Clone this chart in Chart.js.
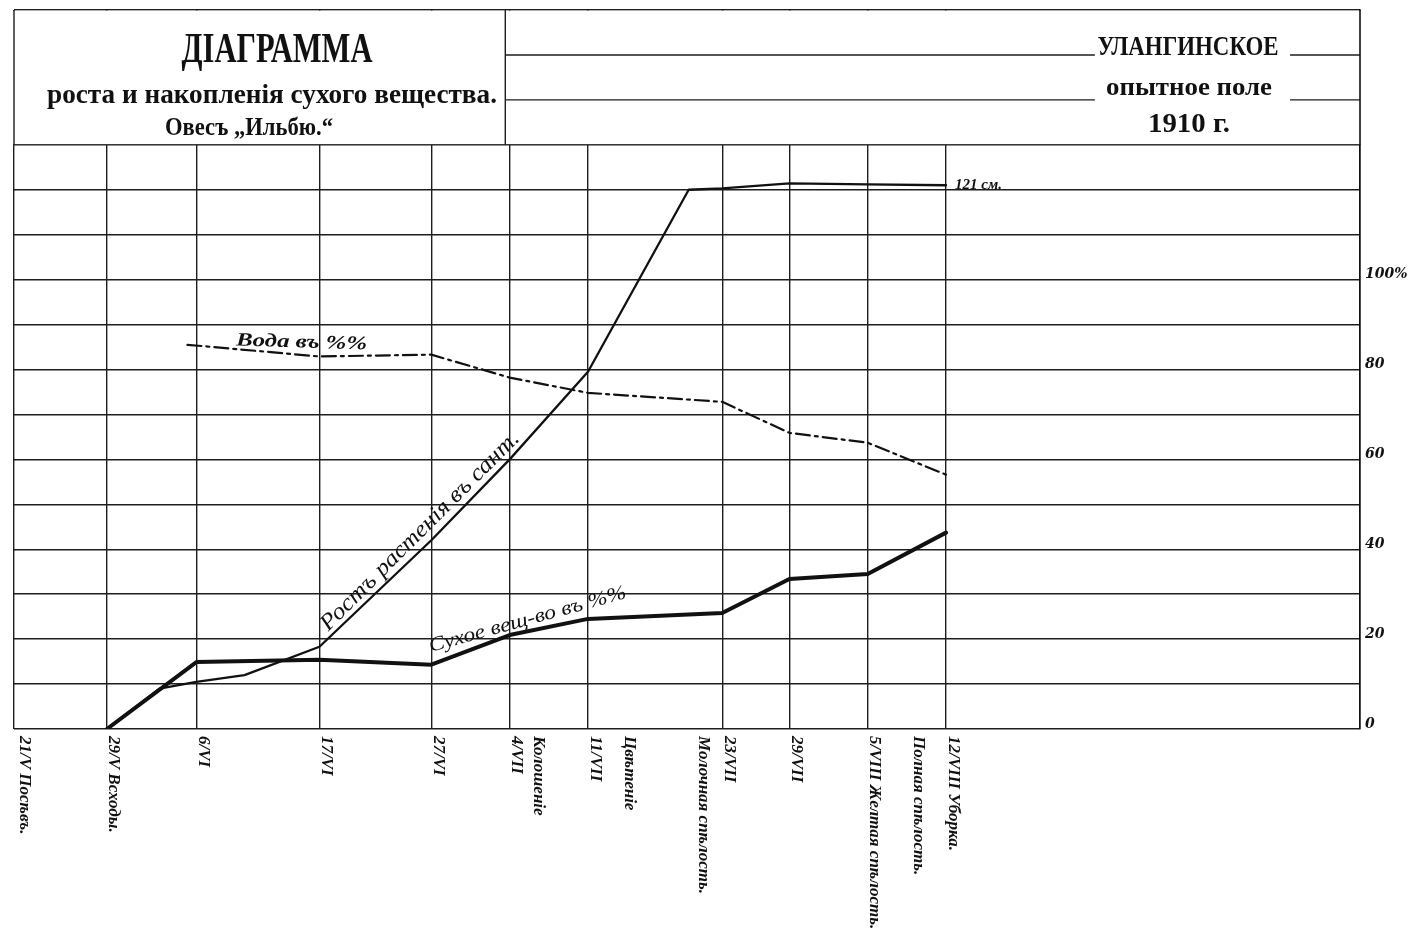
<!DOCTYPE html>
<html lang="ru">
<head>
<meta charset="utf-8">
<title>Діаграмма роста и накопленія сухого вещества</title>
<script src="https://cdn.jsdelivr.net/npm/chart.js@4.4.1/dist/chart.umd.min.js"></script>
<style>
  html, body { margin: 0; padding: 0; background: #fff; }
  canvas { display: block; }
</style>
</head>
<body>
<canvas id="diagram" width="1421" height="945"></canvas>
<script>
// x = days counted from 21/V (sowing day)
const dateDays = [0, 8, 16, 27, 37, 44, 51, 63, 69, 76, 83];
const dateLabels = ['21/V Посѣвъ.', '29/V Всходы.', '6/VI', '17/VI', '27/VI', '4/VII', '11/VII',
  '23/VII', '29/VII', '5/VIII Желтая спѣлость.', '12/VIII Уборка.'];
const phaseDays = [46.6, 54.7, 61.3, 80.5];
const phaseLabels = ['Колошеніе', 'Цвѣтеніе', 'Молочная спѣлость.', 'Полная спѣлость.'];

// height of plants, cm
const heightDays = [8, 12.7, 16, 20.3, 27, 37, 44, 51, 60, 63, 69, 76, 83];
const heightValues = [0, 9, 10.5, 12, 18.3, 42, 60, 79.5, 120, 120.3, 121.4, 121.2, 121];
// dry matter, %
const dryDays = [8, 16, 27, 37, 44, 51, 63, 69, 76, 83];
const dryValues = [0, 14.9, 15.4, 14.3, 20.9, 24.5, 25.8, 33.4, 34.5, 43.7];
// water, %
const waterDays = [15.2, 27, 37, 44, 51, 63, 69, 76, 83];
const waterValues = [85.5, 82.9, 83.3, 78.2, 74.8, 72.8, 65.9, 63.7, 56.6];

const percentTicks = [0, 20, 40, 60, 80, 100];

const ink = '#111';
const gridInk = '#1e1e1e';

function pts(days, vals) {
  return days.map((d, i) => ({ x: d, y: vals[i] }));
}

// draw text squeezed/stretched to a given width
function fitText(ctx, text, cx, cy, font, width, angle) {
  ctx.save();
  ctx.font = font;
  const w = ctx.measureText(text).width;
  ctx.translate(cx, cy);
  ctx.rotate(angle || 0);
  ctx.scale(width / w, 1);
  ctx.fillText(text, 0, 0);
  ctx.restore();
}

function drawDown(ctx, text, px, py) {
  ctx.save();
  ctx.translate(px, py);
  ctx.rotate(Math.PI / 2);
  ctx.fillText(text, 0, 0);
  ctx.restore();
}

function noPad(s) {
  s.paddingTop = 0;
  s.paddingBottom = 0;
  s.paddingLeft = 0;
  s.paddingRight = 0;
}

const sheet = {
  id: 'sheet',
  afterDraw(chart) {
    const { ctx, chartArea: a, scales: { x, y } } = chart;
    const w = a.right - a.left;
    const y130 = y.getPixelForValue(130);
    const y140 = y.getPixelForValue(140);
    const y150 = y.getPixelForValue(150);
    const boxRight = a.left + w * 0.365;
    const gapL = a.left + w * 0.803;
    const gapR = a.left + w * 0.948;

    ctx.save();
    // heading rows: no vertical rules there
    ctx.fillStyle = '#fff';
    ctx.fillRect(a.left - 2, a.top + 0.7, w + 3, y130 - a.top - 1.4);

    ctx.strokeStyle = gridInk;
    ctx.lineWidth = 1.4;
    ctx.beginPath();
    ctx.moveTo(a.left, a.top); ctx.lineTo(a.left, y130);
    ctx.moveTo(boxRight, a.top); ctx.lineTo(boxRight, y130);
    [y150, y140].forEach(yy => {
      ctx.moveTo(boxRight, yy); ctx.lineTo(gapL, yy);
      ctx.moveTo(gapR, yy); ctx.lineTo(a.right, yy);
    });
    ctx.stroke();
    ctx.strokeStyle = ink;
    ctx.lineWidth = 1.6;
    ctx.beginPath();
    ctx.moveTo(a.right, a.top); ctx.lineTo(a.right, y130);
    ctx.stroke();

    // headings
    ctx.fillStyle = ink;
    ctx.textAlign = 'center';
    ctx.textBaseline = 'alphabetic';
    fitText(ctx, 'ДІАГРАММА', 277, 62, 'bold 42px "Liberation Serif"', 191);
    fitText(ctx, 'роста и накопленія сухого вещества.', 272, 103, 'bold 27px "Liberation Serif"', 450);
    fitText(ctx, 'Овесъ „Ильбю.“', 249, 135, 'bold 25px "Liberation Serif"', 168);
    fitText(ctx, 'УЛАНГИНСКОЕ', 1188, 55, 'bold 27px "Liberation Serif"', 181);
    fitText(ctx, 'опытное поле', 1189, 95, 'bold 25px "Liberation Serif"', 166);
    fitText(ctx, '1910 г.', 1189, 132, 'bold 28px "Liberation Serif"', 82);

    // curve captions
    ctx.textBaseline = 'middle';
    fitText(ctx, 'Ростъ растенія въ сант.', x.getPixelForValue(36), y.getPixelForValue(44),
      'italic 23px "Liberation Serif"', 272, -Math.PI / 4);
    fitText(ctx, 'Сухое вещ-во въ %%', x.getPixelForValue(45.6), y.getPixelForValue(24.3),
      'italic 20px "Liberation Serif"', 204, -0.27);
    fitText(ctx, 'Вода въ %%', x.getPixelForValue(25.4), y.getPixelForValue(86),
      'bold italic 19px "Liberation Serif"', 131, 0.03);

    const last = heightValues.length - 1;
    ctx.textAlign = 'left';
    ctx.textBaseline = 'alphabetic';
    ctx.font = 'bold italic 15px "Liberation Serif"';
    ctx.fillText(Math.round(heightValues[last]) + ' см.', x.getPixelForValue(heightDays[last]) + 9,
      y.getPixelForValue(heightValues[last]) + 4);

    // dates and phases under the axis, written downwards
    ctx.font = 'bold italic 17px "Liberation Serif"';
    ctx.textBaseline = 'middle';
    dateDays.forEach((d, i) => {
      drawDown(ctx, dateLabels[i], x.getPixelForValue(Math.max(d, x.min)) + 7, a.bottom + 7);
    });
    phaseDays.forEach((d, i) => {
      drawDown(ctx, phaseLabels[i], x.getPixelForValue(d), a.bottom + 7);
    });
    ctx.restore();
  }
};

new Chart(document.getElementById('diagram'), {
  type: 'line',
  data: {
    datasets: [
      {
        label: 'Ростъ растенія въ сант.',
        data: pts(heightDays, heightValues),
        borderColor: ink,
        borderWidth: 2.3
      },
      {
        label: 'Сухое вещ-во въ %%',
        data: pts(dryDays, dryValues),
        borderColor: ink,
        borderWidth: 4
      },
      {
        label: 'Вода въ %%',
        data: pts(waterDays, waterValues),
        borderColor: ink,
        borderWidth: 2.2,
        borderDash: [14, 5, 3, 5]
      }
    ]
  },
  options: {
    responsive: false,
    animation: false,
    devicePixelRatio: 1,
    layout: { padding: { left: 14, top: 10, right: 0, bottom: 216 } },
    elements: {
      point: { radius: 0 },
      line: { tension: 0, fill: false, borderJoinStyle: 'round', borderCapStyle: 'round' }
    },
    plugins: {
      legend: { display: false },
      tooltip: { enabled: false }
    },
    scales: {
      x: {
        type: 'linear',
        min: -0.3,
        max: 120,
        afterBuildTicks: s => {
          const vals = [s.min, ...dateDays.filter(d => d > s.min + 0.5), s.max];
          s.ticks = vals.map(v => ({ value: v }));
        },
        afterFit: s => { s.height = 0; noPad(s); },
        ticks: { display: false },
        grid: { color: gridInk, lineWidth: 1.4, drawTicks: false },
        border: { display: false }
      },
      y: {
        position: 'right',
        min: 0,
        max: 160,
        afterFit: s => { s.width = 61; noPad(s); },
        ticks: {
          stepSize: 10,
          autoSkip: false,
          padding: 5,
          labelOffset: -5,
          color: ink,
          font: { family: '"DejaVu Serif"', size: 14, style: 'italic', weight: 'bold' },
          callback: v => percentTicks.includes(v) ? (v === 100 ? v + '%' : String(v)) : ''
        },
        grid: { color: gridInk, lineWidth: 1.4, drawTicks: false },
        border: { color: ink, width: 1.6 }
      }
    }
  },
  plugins: [sheet]
});
</script>
</body>
</html>
